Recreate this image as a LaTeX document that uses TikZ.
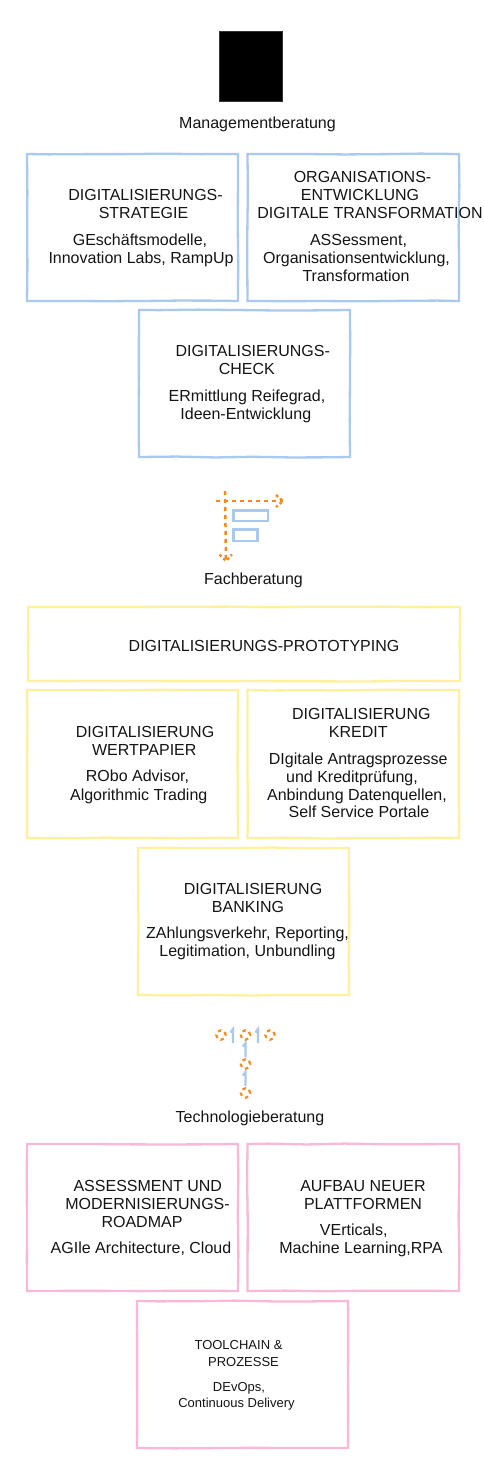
\documentclass[tikz,border=0pt]{standalone}
\usepackage{fontspec}
\setmainfont{Liberation Sans}
\usetikzlibrary{decorations.pathmorphing}
\definecolor{boxblue}{HTML}{A9CAEE}
\definecolor{boxyellow}{HTML}{FFF09E}
\definecolor{boxpink}{HTML}{F7B9D6}
\definecolor{iconorange}{HTML}{F58A1F}
\pgfmathsetseed{7}
\tikzset{
  x=1pt,y=-1pt,
  sketchbox/.style={draw=#1,line width=2.3pt,inner sep=0pt,decorate,decoration={random steps,segment length=38pt,amplitude=0.45pt}},
  lbl/.style={anchor=base,inner sep=0pt,font=\fontsize{16}{18}\selectfont,text=black!92},
  smalllbl/.style={lbl,font=\fontsize{13}{15}\selectfont},
  orangedash/.style={draw=iconorange,line width=2.5pt,dash pattern=on 4pt off 4pt},
  orangetip/.style={draw=iconorange,line width=2.4pt,dash pattern=on 2.8pt off 2.6pt},
  orangering/.style={circle,draw=iconorange,line width=2.2pt,dash pattern=on 3.4pt off 3.7pt,minimum size=9.5pt,inner sep=0pt},
  bluebar/.style={draw=boxblue,line width=2.2pt},
  iconbar/.style={draw=boxblue,line width=2.2pt},
}
\newcommand{\bx}[6]{\node[sketchbox=#2,minimum width=#5-#3,minimum height=#6-#4] (#1) at ({(#3+#5)/2},{(#4+#6)/2}) {};}
\newcommand{\lb}[4]{\node[lbl] (#1) at (#2,#3+5.6) {#4};}
\newcommand{\sm}[4]{\node[smalllbl] (#1) at (#2,#3+4.6) {#4};}
\newcommand{\uparr}[3]{\coordinate (#1a) at (#2,#3+7);\coordinate (#1b) at (#2,#3-7);
  \draw[bluebar] (#1a) -- (#1b) -- ++(-2.6,3.5);}
\begin{document}
\begin{tikzpicture}
\useasboundingbox (0,0) rectangle (484,1475);
\node[fill=black,draw=black!80,minimum width=63pt,minimum height=70pt,inner sep=0pt] (logo) at (250.5,66.5) {};
\lb{mgmt}{257.5}{123}{Managementberatung}
\bx{ba}{boxblue}{27}{154}{238}{301}
\bx{bb}{boxblue}{247.5}{154}{459}{301}
\bx{bc}{boxblue}{139}{310}{350}{457}
\lb{a1}{145.5}{195}{DIGITALISIERUNGS-}
\lb{a2}{143.5}{213}{STRATEGIE}
\lb{a3}{140}{240}{GEschäftsmodelle,}
\lb{a4}{141}{258}{Innovation Labs, RampUp}
\lb{b1}{362.5}{177}{ORGANISATIONS-}
\lb{b2}{360}{195}{ENTWICKLUNG}
\lb{b3}{370}{213}{DIGITALE TRANSFORMATION}
\lb{b4}{358.5}{240}{ASSessment,}
\lb{b5}{356.5}{258}{Organisationsentwicklung,}
\lb{b6}{356}{276}{Transformation}
\lb{c1}{252.7}{351}{DIGITALISIERUNGS-}
\lb{c2}{246.8}{369}{CHECK}
\lb{c3}{247}{396}{ERmittlung Reifegrad,}
\lb{c4}{245.8}{414}{Ideen-Entwicklung}
% Gantt icon
\coordinate (ih0) at (216,501);\coordinate (ih1) at (283,501);
\coordinate (iv0) at (225,491);\coordinate (iv1) at (226,561);
\draw[orangedash] (ih0) -- (ih1);
\draw[orangedash] (iv0) -- (iv1);
\draw[orangetip] (276,495) -- (ih1) -- (276,507);
\draw[orangetip] (219.5,554.5) -- (iv1) -- (232,554.5);
\draw[iconbar] (233.5,510.5) rectangle (268,521);
\draw[iconbar] (233.5,529.5) rectangle (257.5,541);
\lb{fach}{253.5}{579}{Fachberatung}
\bx{ya}{boxyellow}{28}{607}{460}{681}
\bx{yb}{boxyellow}{27}{690}{238}{838}
\bx{yc}{boxyellow}{247.5}{690}{459}{838}
\bx{yd}{boxyellow}{138}{848}{349}{995}
\lb{d1}{264}{646}{DIGITALISIERUNGS-PROTOTYPING}
\lb{e1}{145}{732}{DIGITALISIERUNG}
\lb{e2}{144.3}{750}{WERTPAPIER}
\lb{e3}{137.5}{776}{RObo Advisor,}
\lb{e4}{138.7}{794.5}{Algorithmic Trading}
\lb{f1}{361.3}{714}{DIGITALISIERUNG}
\lb{f2}{358.3}{732}{KREDIT}
\lb{f3}{358.3}{758.5}{DIgitale Antragsprozesse}
\lb{f4}{352}{776.5}{und Kreditprüfung,}
\lb{f5}{357}{794.5}{Anbindung Datenquellen,}
\lb{f6}{359}{812}{Self Service Portale}
\lb{g1}{253}{889}{DIGITALISIERUNG}
\lb{g2}{248}{907}{BANKING}
\lb{g3}{247.5}{933}{ZAhlungsverkehr, Reporting,}
\lb{g4}{247.5}{951}{Legitimation, Unbundling}
% network icon
\node[orangering] (r1) at (221,1035) {};
\node[orangering] (r2) at (245.5,1035) {};
\node[orangering] (r3) at (270,1035) {};
\node[orangering] (r4) at (245.5,1064) {};
\node[orangering] (r5) at (245.5,1093) {};
\uparr{u1}{233}{1036}
\uparr{u2}{258}{1036}
\uparr{u3}{245.5}{1050}
\uparr{u4}{245.5}{1079}
\lb{tech}{250}{1117}{Technologieberatung}
\bx{pa}{boxpink}{27}{1144}{238}{1291}
\bx{pb}{boxpink}{247.5}{1144}{459}{1291}
\bx{pc}{boxpink}{137}{1301}{348}{1448}
\lb{h1}{147.8}{1185.5}{ASSESSMENT UND}
\lb{h2}{147.5}{1203.5}{MODERNISIERUNGS-}
\lb{h3}{142}{1221.5}{ROADMAP}
\lb{h4}{141}{1248}{AGIle Architecture, Cloud}
\lb{i1}{363}{1185.5}{AUFBAU NEUER}
\lb{i2}{363}{1203.5}{PLATTFORMEN}
\lb{i3}{353.7}{1230}{VErticals,}
\lb{i4}{361}{1248}{Machine Learning,RPA}
\sm{j1}{238.5}{1345}{TOOLCHAIN \&}
\sm{j2}{243.5}{1362}{PROZESSE}
\sm{j3}{239}{1387}{DEvOps,}
\sm{j4}{236.5}{1403}{Continuous Delivery}
\end{tikzpicture}
\end{document}
